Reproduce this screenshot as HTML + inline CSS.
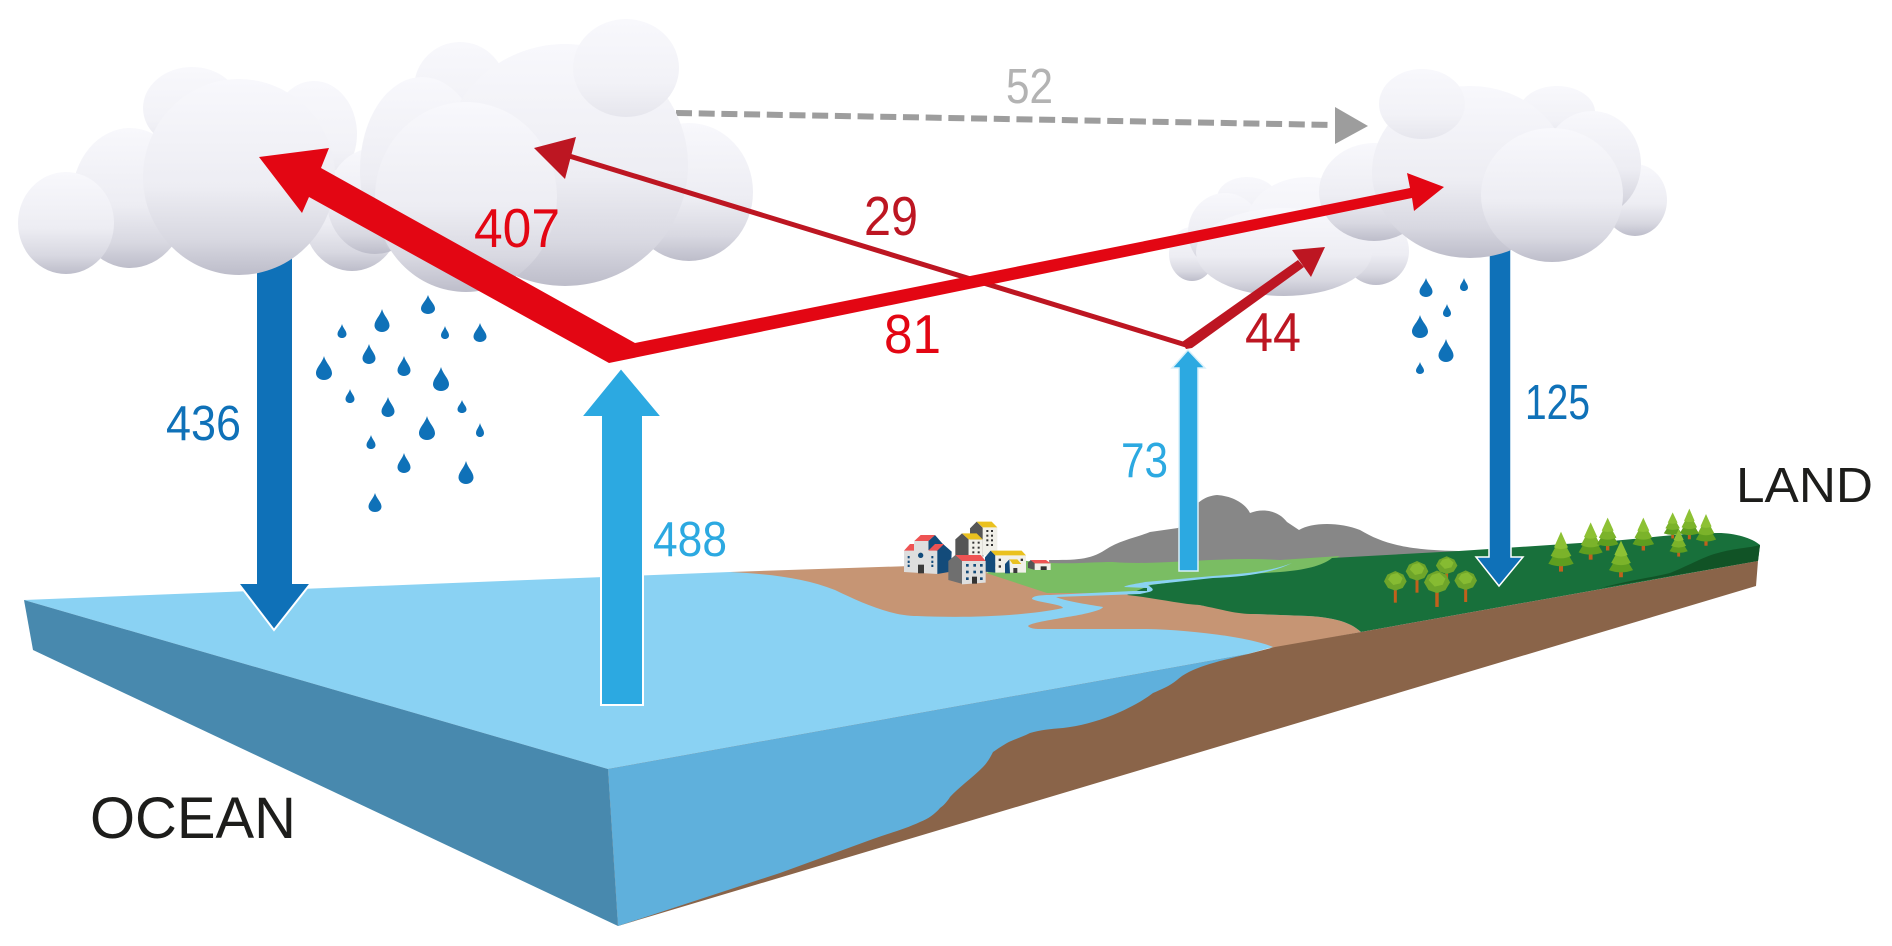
<!DOCTYPE html>
<html lang="en"><head><meta charset="utf-8"><title>Water cycle</title>
<style>html,body{margin:0;padding:0;background:#fff;width:1892px;height:946px;overflow:hidden}svg{display:block}text{font-family:"Liberation Sans",sans-serif}</style></head>
<body>
<svg xmlns="http://www.w3.org/2000/svg" width="1892" height="946" viewBox="0 0 1892 946">
<defs>
<linearGradient id="c" x1="0" y1="0" x2="0" y2="1"><stop offset="0" stop-color="#f8f8fc"/><stop offset=".55" stop-color="#ededf3"/><stop offset=".82" stop-color="#d8d8e1"/><stop offset="1" stop-color="#bdbdca"/></linearGradient>
<linearGradient id="k" x1="0" y1="0" x2="0" y2="1"><stop offset="0" stop-color="#f8f8fc"/><stop offset=".65" stop-color="#f2f2f7"/><stop offset="1" stop-color="#e6e6ed"/></linearGradient>
<path id="d" fill="#0f71b8" d="M0 0C.12 .3 .5 .48 .5 .72C.5 .88 .28 1 0 1C-.28 1 -.5 .88 -.5 .72C-.5 .48 -.12 .3 0 0Z"/>
<g id="pine"><rect x="-6" y="92" width="12" height="20" fill="#c1611c"/><path fill="#5f9e1f" d="M0 30L38 90Q0 104 -38 90Z"/><path fill="#7bb32a" d="M0 14L31 68Q0 82 -31 68Z"/><path fill="#8dc134" d="M0 0L21 44Q0 54 -21 44Z"/></g>
<g id="tree"><rect x="-4.500" y="20" width="9" height="46" fill="#c1611c"/><path fill="#6ea52a" d="M-34 2L-24 -18L0 -29L24 -18L34 2L22 22L0 30L-22 22Z"/><path fill="#86bb32" d="M-22 -4L-13 -18L6 -23L22 -8L15 8L-6 13Z"/></g>
</defs>

<!-- land -->
<path fill="#878787" d="M1049 560C1075 560 1090 560 1105 550C1120 540 1135 538 1150 532L1178 528C1190 515 1195 497 1217 495C1232 496 1245 503 1250 513C1262 508 1278 510 1287 522L1299 530C1312 522 1340 522 1360 530C1385 545 1410 550 1459 551L1400 570L1050 580Z"/>
<path fill="#7abd63" d="M986 573L1020 560C1060 566 1085 562 1113 562C1160 566 1220 556 1280 560L1340 556L1300 580L1150 600L1050 600Z"/>
<path fill="#c69574" d="M730 572L1000 563L986 573L1047 593L1127 593L1199 605L1254 614L1308 616C1340 618 1352 624 1361 632L1275 648L900 640Z"/>
<path fill="#18703b" d="M1332 558C1322 566 1305 570 1280 572L1217 576L1151 585L1127 595C1155 598 1180 604 1199 605C1225 610 1235 614 1254 614L1308 616C1340 618 1352 624 1361 632L1758 561L1760 545C1752 538 1735 533 1718 533C1680 533 1650 538 1610 541L1459 551Z"/>
<path fill="#115326" d="M1601 588C1630 580 1650 578 1670 573C1690 565 1705 556 1718 553C1735 548 1750 548 1760 545L1758 561Z"/>

<!-- ocean -->
<path fill="#8ad2f3" d="M24 600L730 572C770 574 805 578 835 590C860 602 890 616 917 616C960 618 1020 617 1063 608C1062 604 1040 603 1032 599C1032 596 1040 595 1050 595L1133 591L1147 591L1147 588L1124 587C1126 585 1135 584 1145 582L1213 576C1240 574 1270 572 1292 563C1272 573 1245 577 1213 578L1148 585C1150 587 1157 590 1149 592L1140 594L1056 597C1065 601 1085 604 1103 607C1102 611 1075 616 1067 617C1050 620 1030 623 1028 626C1030 629 1038 629 1040 629L1147 629C1190 630 1250 637 1273 647L1248 654L608 769Z"/>
<polygon fill="#4889ae" points="24,600 33,650 618,926 608,769"/>
<polygon fill="#8a6449" points="618,926 1756,586 1758,561 1361,632 1275,647 1248,654 608,769"/>
<path fill="#5fb0dc" d="M608 769L1248 654C1215 662 1190 668 1177 680C1170 686 1160 690 1153 693C1140 703 1125 710 1113 715C1095 722 1080 726 1063 728C1050 729 1040 730 1030 733C1020 738 1012 740 1007 743C1000 747 996 750 993 752C990 758 987 763 983 767C972 778 958 788 950 797C947 802 943 806 940 808C935 814 928 819 920 822C905 829 890 833 873 839L780 873L618 926Z"/>

<!-- houses (zoom coords) -->
<g transform="translate(880 480) scale(.33333)">
<polygon fill="#555" points="270,145 290,125 310,145 310,230 270,230"/>
<polygon fill="#f1f0e9" points="308,142 352,142 352,225 308,225"/>
<polygon fill="#eac11f" points="290,125 335,125 352,142 308,142"/>
<polygon fill="#555" points="226,178 246,160 266,178 266,230 226,230"/>
<polygon fill="#f1f0e9" points="266,178 308,178 308,232 266,232"/>
<polygon fill="#eac11f" points="246,160 290,160 308,178 266,178"/>
<polygon fill="#134b7a" points="145,183 165,165 187,190 215,215 213,275 172,282 145,270"/>
<polygon fill="#dedede" points="72,212 100,210 103,183 145,183 145,210 172,212 172,282 72,276"/>
<polygon fill="#ee5353" points="103,183 122,165 165,165 145,183"/>
<polygon fill="#ee5353" points="72,212 90,192 102,192 102,212"/>
<polygon fill="#ee5353" points="145,212 165,192 192,192 172,212"/>
<circle cx="122" cy="226" r="8" fill="#134b7a"/>
<rect x="114" y="254" width="18" height="26" fill="#3a3a3a"/>
<g fill="#134b7a"><rect x="83" y="228" width="6" height="7"/><rect x="83" y="242" width="6" height="7"/><rect x="83" y="254" width="6" height="7"/><rect x="154" y="228" width="6" height="7"/><rect x="154" y="242" width="6" height="7"/><rect x="154" y="254" width="6" height="7"/></g>
<polygon fill="#134b7a" points="315,232 332,212 346,226 346,278 315,275"/>
<polygon fill="#f1f0e9" points="346,226 438,226 438,278 346,278"/>
<polygon fill="#eac11f" points="332,212 425,212 438,226 346,226"/>
<polygon fill="#134b7a" points="375,252 388,238 390,280 375,280"/>
<polygon fill="#eac11f" points="388,238 412,238 424,252 398,252"/>
<rect x="400" y="264" width="12" height="15" fill="#3a3a3a"/>
<polygon fill="#6f6f6f" points="205,243 226,225 248,243 248,312 205,300"/>
<polygon fill="#dedede" points="246,243 317,243 317,308 246,313"/>
<polygon fill="#ee5353" points="226,225 302,225 317,243 246,243"/>
<rect x="276" y="290" width="15" height="21" fill="#333"/>
<g fill="#134b7a"><rect x="258" y="252" width="8" height="8"/><rect x="280" y="252" width="8" height="8"/><rect x="300" y="252" width="8" height="8"/><rect x="258" y="272" width="8" height="8"/><rect x="280" y="272" width="8" height="8"/><rect x="300" y="272" width="8" height="8"/><rect x="258" y="292" width="8" height="8"/><rect x="300" y="292" width="8" height="8"/></g>
<g fill="#333"><rect x="319" y="150" width="6" height="6"/><rect x="333" y="150" width="6" height="6"/><rect x="319" y="164" width="6" height="6"/><rect x="333" y="164" width="6" height="6"/><rect x="319" y="178" width="6" height="6"/><rect x="333" y="178" width="6" height="6"/><rect x="319" y="192" width="6" height="6"/><rect x="333" y="192" width="6" height="6"/><rect x="277" y="185" width="6" height="6"/><rect x="293" y="185" width="6" height="6"/><rect x="277" y="200" width="6" height="6"/><rect x="293" y="200" width="6" height="6"/><rect x="277" y="214" width="6" height="6"/><rect x="293" y="214" width="6" height="6"/><rect x="356" y="236" width="7" height="7"/><rect x="356" y="256" width="7" height="7"/><rect x="422" y="236" width="7" height="7"/></g>
<polygon fill="#555" points="444,248 452,240 466,250 466,270 444,264"/>
<polygon fill="#f1f0e9" points="464,250 512,250 512,270 464,270"/>
<polygon fill="#ee5353" points="452,240 498,240 512,250 464,250"/>
<rect x="482" y="259" width="18" height="11" fill="#333"/>
</g>

<!-- trees (zoom coords) -->
<g transform="translate(1360 480) scale(.33333)">
<use href="#tree" transform="translate(260 255) scale(.95 .9)"/>
<use href="#tree" transform="translate(171 272)"/>
<use href="#tree" transform="translate(106 302)"/>
<use href="#tree" transform="translate(317 300)"/>
<use href="#tree" transform="translate(231 305) scale(1.15)"/>
<use href="#pine" transform="translate(603 155) scale(1 1.07)"/>
<use href="#pine" transform="translate(692 127) scale(.95 1)"/>
<use href="#pine" transform="translate(743 113) scale(.85 .88)"/>
<use href="#pine" transform="translate(850 113) scale(.85 .88)"/>
<use href="#pine" transform="translate(783 182) scale(.95 .98)"/>
<use href="#pine" transform="translate(938 97) scale(.7 .7)"/>
<use href="#pine" transform="translate(988 86) scale(.75 .82)"/>
<use href="#pine" transform="translate(1038 102) scale(.8 .85)"/>
<use href="#pine" transform="translate(956 148) scale(.72 .73)"/>
</g>

<!-- blue arrows -->
<polygon fill="#0f71b8" stroke="#fff" stroke-width="2" points="256,250 293,250 293,583 311,583 274,630 238,583 256,583"/>
<polygon fill="#2ca9e1" stroke="#fff" stroke-width="2" points="621,368 662,417 643,417 643,705 601,705 601,417 581,417"/>
<polygon fill="#2ca9e1" stroke="#d8f0fa" stroke-width="1.5" points="1188,350 1205,368 1198,368 1198,571 1179,571 1179,368 1172,368"/>
<polygon fill="#0f71b8" stroke="#fff" stroke-width="1.5" points="1489,230 1511,230 1511,557 1523,557 1499,586 1476,557 1489,557"/>

<!-- gray dashed -->
<line x1="676" y1="113" x2="1334" y2="125" stroke="#9d9d9d" stroke-width="6" stroke-dasharray="16 6.7"/>
<polygon fill="#9d9d9d" points="1335,107 1368,126 1335,144"/>

<!-- clouds -->
<g fill="url(#c)">
<!-- small cloud -->
<ellipse cx="1247" cy="198" rx="30" ry="21" fill="url(#k)"/>
<ellipse cx="1192" cy="254" rx="23" ry="27"/>
<ellipse cx="1225" cy="232" rx="37" ry="39"/>
<ellipse cx="1308" cy="225" rx="62" ry="48" fill="url(#k)"/>
<ellipse cx="1376" cy="251" rx="33" ry="34"/>
<ellipse cx="1284" cy="252" rx="88" ry="44"/>
<!-- right cloud -->
<ellipse cx="1557" cy="112" rx="38" ry="26" fill="url(#k)"/>
<ellipse cx="1635" cy="200" rx="32" ry="36"/>
<ellipse cx="1592" cy="164" rx="49" ry="53"/>
<ellipse cx="1374" cy="192" rx="55" ry="49"/>
<ellipse cx="1470" cy="172" rx="98" ry="86"/>
<ellipse cx="1552" cy="195" rx="71" ry="67"/>
<ellipse cx="1422" cy="104" rx="43" ry="35" fill="url(#k)"/>
<!-- left cloud -->
<ellipse cx="192" cy="108" rx="49" ry="41" fill="url(#k)"/>
<ellipse cx="314" cy="134" rx="43" ry="53" fill="url(#k)"/>
<ellipse cx="130" cy="198" rx="58" ry="70"/>
<ellipse cx="352" cy="219" rx="48" ry="52"/>
<ellipse cx="375" cy="201" rx="48" ry="53"/>
<ellipse cx="66" cy="223" rx="48" ry="51"/>
<ellipse cx="239" cy="177" rx="96" ry="98"/>
<!-- centre cloud -->
<ellipse cx="689" cy="192" rx="64" ry="69"/>
<ellipse cx="460" cy="88" rx="46" ry="46" fill="url(#k)"/>
<ellipse cx="422" cy="170" rx="62" ry="93"/>
<ellipse cx="565" cy="165" rx="123" ry="121"/>
<ellipse cx="466" cy="197" rx="91" ry="95"/>
<ellipse cx="626" cy="68" rx="53" ry="49" fill="url(#k)"/>
</g>

<!-- red arrows -->
<line x1="1186" y1="345" x2="566" y2="155" stroke="#bd1622" stroke-width="5"/>
<polygon fill="#bd1622" points="534,148 576,137 565,179"/>
<polygon fill="#bd1622" points="1182,342 1298,260 1304,267 1192,348 1186,349"/>
<polygon fill="#bd1622" points="1325,247 1292,250 1311,277"/>
<polygon fill="#e30613" points="259,157 329,148 321,168 635,343 1410,188 1407,173 1444,187 1414,211 1412,198 609,363 309,197 302,213"/>

<!-- raindrops -->
<g>
<use href="#d" transform="translate(428 295) scale(14 19)"/>
<use href="#d" transform="translate(382 309) scale(15 23)"/>
<use href="#d" transform="translate(342 324) scale(9 14)"/>
<use href="#d" transform="translate(445 326) scale(8 13)"/>
<use href="#d" transform="translate(480 323) scale(13 19)"/>
<use href="#d" transform="translate(369 344) scale(13 20)"/>
<use href="#d" transform="translate(324 356) scale(16 24)"/>
<use href="#d" transform="translate(404 356) scale(13 20)"/>
<use href="#d" transform="translate(441 367) scale(16 24)"/>
<use href="#d" transform="translate(350 389) scale(9 14)"/>
<use href="#d" transform="translate(388 397) scale(13 20)"/>
<use href="#d" transform="translate(462 400) scale(9 13)"/>
<use href="#d" transform="translate(427 416) scale(16 24)"/>
<use href="#d" transform="translate(480 423) scale(8 14)"/>
<use href="#d" transform="translate(371 435) scale(9 14)"/>
<use href="#d" transform="translate(404 453) scale(13 20)"/>
<use href="#d" transform="translate(466 461) scale(15 23)"/>
<use href="#d" transform="translate(375 493) scale(13 19)"/>
<use href="#d" transform="translate(1426 278) scale(13 19)"/>
<use href="#d" transform="translate(1464 278) scale(8 13)"/>
<use href="#d" transform="translate(1447 304) scale(8 13)"/>
<use href="#d" transform="translate(1420 315) scale(16 23)"/>
<use href="#d" transform="translate(1446 339) scale(15 23)"/>
<use href="#d" transform="translate(1420 362) scale(8 12)"/>
</g>

<!-- labels -->
<g font-size="55">
<text x="474" y="247" fill="#e30613" textLength="86" lengthAdjust="spacingAndGlyphs">407</text>
<text x="864" y="235" fill="#bd1622" textLength="54" lengthAdjust="spacingAndGlyphs">29</text>
<text x="884" y="353" fill="#e30613" textLength="57" lengthAdjust="spacingAndGlyphs">81</text>
<text x="1245" y="351" fill="#bd1622" textLength="56" lengthAdjust="spacingAndGlyphs">44</text>
</g>
<g font-size="49">
<text x="1006" y="103" fill="#b3b3b3" textLength="47" lengthAdjust="spacingAndGlyphs">52</text>
<text x="166" y="440" fill="#0f71b8" textLength="75" lengthAdjust="spacingAndGlyphs">436</text>
<text x="653" y="556" fill="#2ca9e1" textLength="74" lengthAdjust="spacingAndGlyphs">488</text>
<text x="1121" y="477" fill="#2ca9e1" textLength="47" lengthAdjust="spacingAndGlyphs">73</text>
<text x="1525" y="419" fill="#0f71b8" textLength="65" lengthAdjust="spacingAndGlyphs">125</text>
</g>
<text x="90" y="838" font-size="58" fill="#1d1d1b" textLength="206" lengthAdjust="spacingAndGlyphs">OCEAN</text>
<text x="1736" y="502" font-size="49" fill="#1d1d1b" textLength="137" lengthAdjust="spacingAndGlyphs">LAND</text>
</svg>
</body></html>
